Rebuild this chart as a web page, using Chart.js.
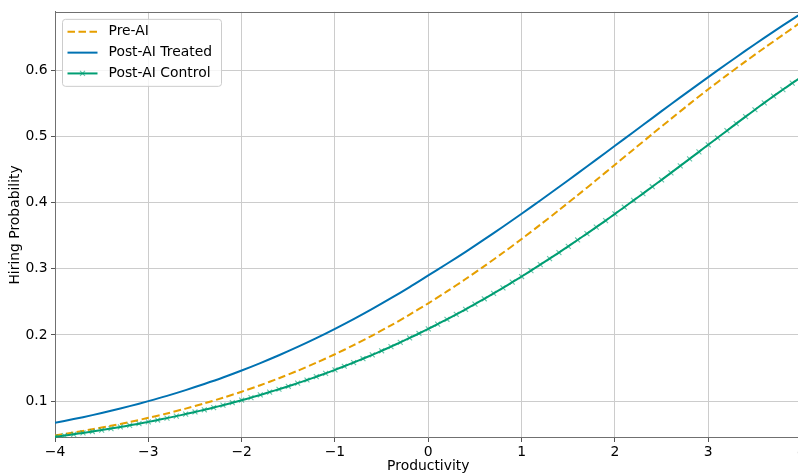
<!DOCTYPE html>
<html lang="en">
<head>
<meta charset="utf-8" />
<title>Hiring probability by productivity</title>
<script src="https://cdn.jsdelivr.net/npm/chart.js@4.4.1/dist/chart.umd.min.js"></script>
<style>
  html, body { margin: 0; padding: 0; background: #fff; overflow: hidden; }
  .wrap { width: 808px; height: 475px; }
</style>
</head>
<body>
<div class="wrap"><canvas id="chart" width="808" height="475"></canvas></div>
<script>
// productivity grid, step 0.2 (Pre-AI, Post-AI Treated)
const xCoarse = [
  -4.0, -3.8, -3.6, -3.4, -3.2, -3.0, -2.8, -2.6, -2.4, -2.2,
  -2.0, -1.8, -1.6, -1.4, -1.2, -1.0, -0.8, -0.6, -0.4, -0.2,
  0.0, 0.2, 0.4, 0.6, 0.8, 1.0, 1.2, 1.4, 1.6, 1.8,
  2.0, 2.2, 2.4, 2.6, 2.8, 3.0, 3.2, 3.4, 3.6, 3.8, 4.0,
];
// productivity grid, step 0.1 (Post-AI Control, drawn with markers)
const xFine = [
  -4.0, -3.9, -3.8, -3.7, -3.6, -3.5, -3.4, -3.3, -3.2, -3.1,
  -3.0, -2.9, -2.8, -2.7, -2.6, -2.5, -2.4, -2.3, -2.2, -2.1,
  -2.0, -1.9, -1.8, -1.7, -1.6, -1.5, -1.4, -1.3, -1.2, -1.1,
  -1.0, -0.9, -0.8, -0.7, -0.6, -0.5, -0.4, -0.3, -0.2, -0.1,
  0.0, 0.1, 0.2, 0.3, 0.4, 0.5, 0.6, 0.7, 0.8, 0.9,
  1.0, 1.1, 1.2, 1.3, 1.4, 1.5, 1.6, 1.7, 1.8, 1.9,
  2.0, 2.1, 2.2, 2.3, 2.4, 2.5, 2.6, 2.7, 2.8, 2.9,
  3.0, 3.1, 3.2, 3.3, 3.4, 3.5, 3.6, 3.7, 3.8, 3.9, 4.0,
];

const preAI = [
  0.0479, 0.0524, 0.0572, 0.0625, 0.0682, 0.0745, 0.0812, 0.0885, 0.0964, 0.1049,
  0.1141, 0.1239, 0.1345, 0.1458, 0.1579, 0.1708, 0.1845, 0.1991, 0.2145, 0.2308,
  0.2479, 0.2658, 0.2846, 0.3041, 0.3243, 0.3452, 0.3668, 0.3889, 0.4114, 0.4344,
  0.4576, 0.4808, 0.5040, 0.5270, 0.5497, 0.5718, 0.5932, 0.6140, 0.6343, 0.6542, 0.6740,
];
const postTreated = [
  0.0669, 0.0726, 0.0786, 0.0852, 0.0922, 0.0998, 0.1078, 0.1165, 0.1258, 0.1356,
  0.1462, 0.1574, 0.1692, 0.1818, 0.1951, 0.2092, 0.2239, 0.2394, 0.2556, 0.2725,
  0.2901, 0.3077, 0.3258, 0.3446, 0.3638, 0.3834, 0.4035, 0.4238, 0.4445, 0.4653,
  0.4863, 0.5072, 0.5282, 0.5491, 0.5698, 0.5902, 0.6104, 0.6302, 0.6495, 0.6684, 0.6867,
];
const postControl = [
  0.0457, 0.0477, 0.0496, 0.0517, 0.0538, 0.0560, 0.0583, 0.0607, 0.0632, 0.0657,
  0.0684, 0.0712, 0.0741, 0.0771, 0.0802, 0.0834, 0.0867, 0.0901, 0.0937, 0.0974,
  0.1012, 0.1051, 0.1092, 0.1135, 0.1178, 0.1223, 0.1270, 0.1318, 0.1368, 0.1419,
  0.1472, 0.1526, 0.1582, 0.1640, 0.1699, 0.1760, 0.1823, 0.1888, 0.1954, 0.2022,
  0.2092, 0.2163, 0.2237, 0.2312, 0.2388, 0.2467, 0.2547, 0.2629, 0.2712, 0.2798,
  0.2884, 0.2973, 0.3063, 0.3155, 0.3247, 0.3341, 0.3437, 0.3534, 0.3632, 0.3731,
  0.3832, 0.3933, 0.4036, 0.4139, 0.4243, 0.4347, 0.4453, 0.4558, 0.4665, 0.4771,
  0.4878, 0.4984, 0.5091, 0.5198, 0.5304, 0.5408, 0.5512, 0.5614, 0.5714, 0.5812, 0.5905,
];

const xTicks = [-4, -3, -2, -1, 0, 1, 2, 3, 4];
const yTicks = [0.1, 0.2, 0.3, 0.4, 0.5, 0.6];

const FONT = "DejaVu Sans";
const TEXT_SIZE = 13.9;
const TEXT_COLOR = "#000";

const pairs = (xs, ys) => xs.map((x, i) => ({ x, y: ys[i] }));

const datasets = [
  {
    label: "Pre-AI",
    data: pairs(xCoarse, preAI),
    borderColor: "#E69F00",
    borderWidth: 2,
    borderDash: [7.5, 3.5],
    pointRadius: 0,
    tension: 0.3,
    order: 2,
  },
  {
    label: "Post-AI Treated",
    data: pairs(xCoarse, postTreated),
    borderColor: "#0072B2",
    borderWidth: 2,
    pointRadius: 0,
    tension: 0.3,
    order: 1,
  },
  {
    label: "Post-AI Control",
    data: pairs(xFine, postControl),
    borderColor: "#009E73",
    borderWidth: 2,
    pointStyle: "crossRot",
    pointRadius: 3.5,
    pointBorderWidth: 1.1,
    pointBorderColor: "rgba(0, 158, 115, 0.6)",
    pointBackgroundColor: "rgba(0, 158, 115, 0.6)",
    tension: 0.3,
    order: 0,
  },
];

// top and right spines, drawn above the lines like matplotlib
const framePlugin = {
  id: "frame",
  afterDatasetsDraw(chart) {
    const { ctx, chartArea: a } = chart;
    ctx.save();
    ctx.strokeStyle = "#707070";
    ctx.lineWidth = 1;
    ctx.beginPath();
    ctx.moveTo(Math.round(a.left) + 0.5, Math.round(a.top) + 0.5);
    ctx.lineTo(Math.round(a.right) + 0.5, Math.round(a.top) + 0.5);
    ctx.lineTo(Math.round(a.right) + 0.5, Math.round(a.bottom) + 0.5);
    ctx.stroke();
    ctx.restore();
  },
};

// legend box in the upper-left of the axes
const legendPlugin = {
  id: "legendBox",
  afterDraw(chart) {
    const ctx = chart.ctx;
    const a = chart.chartArea;
    const x0 = a.left + 7.5, y0 = a.top + 7.5, w = 159, h = 67, r = 3;
    ctx.save();
    ctx.beginPath();
    ctx.roundRect(x0, y0, w, h, r);
    ctx.fillStyle = "rgba(255, 255, 255, 0.8)";
    ctx.fill();
    ctx.strokeStyle = "#cccccc";
    ctx.lineWidth = 1;
    ctx.stroke();

    ctx.font = `${TEXT_SIZE}px "${FONT}"`;
    ctx.textBaseline = "middle";
    ctx.textAlign = "left";
    chart.data.datasets.forEach((ds, i) => {
      const cy = y0 + 12.5 + i * 20.8;
      const lx = x0 + 5;
      ctx.strokeStyle = ds.borderColor;
      ctx.lineWidth = ds.borderWidth;
      ctx.setLineDash(ds.borderDash || []);
      ctx.beginPath();
      ctx.moveTo(lx, cy);
      ctx.lineTo(lx + 30, cy);
      ctx.stroke();
      ctx.setLineDash([]);
      if (ds.pointStyle === "crossRot") {
        ctx.strokeStyle = ds.pointBorderColor;
        ctx.lineWidth = 1.1;
        const mx = lx + 15, d = 2.5;
        ctx.beginPath();
        ctx.moveTo(mx - d, cy - d); ctx.lineTo(mx + d, cy + d);
        ctx.moveTo(mx - d, cy + d); ctx.lineTo(mx + d, cy - d);
        ctx.stroke();
      }
      ctx.fillStyle = TEXT_COLOR;
      ctx.fillText(ds.label, lx + 41, cy);
    });
    ctx.restore();
  },
};

const tickFont = { family: FONT, size: TEXT_SIZE };

new Chart(document.getElementById("chart"), {
  type: "line",
  data: { datasets },
  plugins: [framePlugin, legendPlugin],
  options: {
    responsive: false,
    animation: false,
    layout: { padding: { top: 11, left: 0, right: 0, bottom: 0 } },
    plugins: {
      legend: { display: false },
      tooltip: { enabled: false },
    },
    scales: {
      x: {
        type: "linear",
        min: -4,
        max: 4,
        afterBuildTicks(scale) {
          scale.ticks = xTicks.map((v) => ({ value: v }));
        },
        afterFit(scale) {
          scale.height = 37;
        },
        ticks: {
          font: tickFont,
          color: TEXT_COLOR,
          padding: 2,
          maxRotation: 0,
          callback: (v) => String(v).replace("-", "\u2212"),
        },
        grid: { color: "#cccccc", tickColor: "#555", tickLength: 4 },
        border: { color: "#707070" },
        title: {
          display: true,
          text: "Productivity",
          font: tickFont,
          color: TEXT_COLOR,
          padding: { top: 0, bottom: 0 },
        },
      },
      y: {
        min: 0.044,
        max: 0.689,
        afterBuildTicks(scale) {
          scale.ticks = yTicks.map((v) => ({ value: v }));
        },
        afterFit(scale) {
          scale.width = 55;
        },
        ticks: {
          font: tickFont,
          color: TEXT_COLOR,
          padding: 3.5,
          callback: (v) => v.toFixed(1),
        },
        grid: { color: "#cccccc", tickColor: "#555", tickLength: 4 },
        border: { color: "#707070" },
        title: {
          display: true,
          text: "Hiring Probability",
          font: tickFont,
          color: TEXT_COLOR,
          padding: { top: 7, bottom: 0 },
        },
      },
    },
  },
});
</script>
</body>
</html>
